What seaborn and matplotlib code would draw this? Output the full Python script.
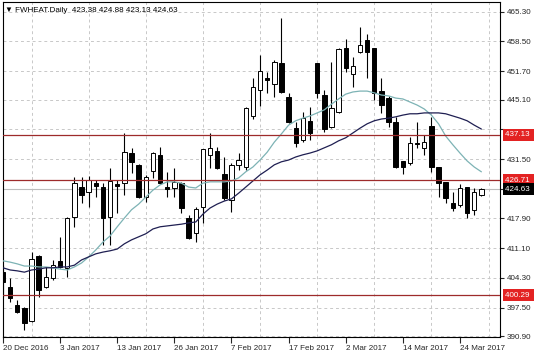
import numpy as np
import pandas as pd
import matplotlib
matplotlib.use("Agg")
import matplotlib.pyplot as plt
import seaborn as sns
from matplotlib.transforms import blended_transform_factory

sns.set_style("white")
plt.rcParams['font.family'] = ['Liberation Sans', 'DejaVu Sans']

# ---- data ----
opens = [405.6, 402.2, 398.1, 397.4, 394.4, 409.3, 402.2, 404.3, 408.2, 406.6,
         418.2, 425.1, 424.0, 426.0, 425.1, 418.2, 425.8, 426.0, 432.9, 430.2,
         422.8, 428.8, 432.5, 425.1, 424.9, 426.0, 418.0, 414.6, 420.5, 432.5,
         433.4, 428.1, 422.1, 430.2, 429.7, 441.4, 447.4, 450.1, 448.7, 453.5,
         445.8, 438.6, 435.9, 440.2, 453.5, 446.2, 438.9, 442.3, 457.0, 451.0,
         456.1, 458.8, 457.0, 447.1, 445.5, 440.0, 431.1, 430.6, 435.2, 434.1,
         439.1, 429.7, 426.3, 421.5, 421.0, 425.1, 419.9, 423.38]
highs = [407.2, 404.3, 399.2, 397.6, 410.2, 409.5, 406.8, 408.4, 413.6, 418.3,
         427.4, 427.4, 427.6, 426.7, 426.0, 429.5, 426.7, 437.5, 434.1, 430.4,
         427.9, 433.1, 434.3, 428.6, 429.5, 426.2, 418.7, 420.5, 433.9, 437.5,
         434.3, 432.0, 430.6, 432.9, 443.5, 450.1, 455.4, 451.5, 454.2, 463.9,
         446.7, 440.0, 442.3, 443.5, 453.5, 447.4, 453.8, 457.0, 459.0, 454.9,
         461.8, 460.2, 457.0, 450.1, 446.0, 441.2, 431.1, 436.6, 440.0, 437.0,
         441.2, 429.7, 426.3, 424.0, 425.8, 425.1, 424.9, 424.88]
lows = [399.9, 398.8, 396.3, 392.3, 394.2, 399.9, 402.0, 403.8, 406.6, 404.5,
        416.0, 421.5, 420.5, 422.8, 411.8, 411.8, 419.2, 423.3, 428.3, 422.6,
        421.7, 427.2, 425.8, 422.8, 422.8, 419.2, 413.2, 412.5, 416.9, 429.5,
        429.3, 422.1, 419.4, 429.0, 429.0, 440.7, 443.7, 446.7, 445.8, 446.7,
        439.8, 434.3, 435.4, 435.9, 445.5, 437.7, 438.6, 442.1, 451.5, 448.0,
        455.8, 450.1, 445.1, 442.1, 438.9, 429.5, 428.1, 430.2, 434.1, 432.5,
        428.6, 422.8, 421.5, 419.6, 420.5, 418.0, 418.7, 423.13]
closes = [403.4, 399.7, 396.5, 394.0, 408.6, 401.5, 404.5, 407.2, 406.8, 418.0,
          426.0, 423.3, 426.7, 425.3, 418.0, 426.5, 425.3, 433.1, 430.9, 422.8,
          427.4, 432.9, 426.0, 424.7, 426.3, 420.3, 413.4, 420.1, 433.8, 434.1,
          429.5, 422.6, 430.2, 431.3, 443.2, 448.0, 451.7, 449.6, 453.8, 446.9,
          440.0, 435.2, 440.9, 437.5, 446.7, 438.4, 443.2, 456.8, 452.4, 452.9,
          457.7, 456.1, 446.7, 443.9, 440.0, 429.7, 429.7, 435.2, 435.0, 435.4,
          429.7, 426.0, 422.6, 420.3, 424.9, 419.2, 424.0, 424.63]

ma_fast = [408.2, 407.9, 407.5, 407.0, 407.0, 406.8, 406.8, 406.6, 406.3, 406.1,
           406.8, 407.7, 409.1, 410.7, 412.5, 413.9, 416.0, 418.0, 419.9, 421.2,
           422.8, 424.4, 425.6, 426.3, 426.3, 426.0, 425.1, 424.9, 426.0, 426.3,
           426.3, 426.3, 426.5, 427.2, 428.6, 429.7, 431.3, 433.1, 435.4, 437.3,
           439.3, 440.3, 440.9, 441.4, 442.1, 442.8, 444.1, 445.3, 446.4, 446.9,
           447.1, 447.1, 446.7, 446.2, 446.0, 445.5, 445.3, 444.6, 443.9, 443.0,
           441.6, 439.6, 436.8, 434.8, 432.9, 431.1, 429.7, 428.6]
ma_slow = [406.6, 406.1, 405.9, 405.6, 406.1, 406.3, 406.6, 406.6, 406.8, 406.8,
           407.2, 408.4, 409.1, 409.8, 410.2, 410.5, 410.9, 412.1, 413.0, 413.7,
           414.4, 415.5, 416.0, 416.2, 416.4, 416.6, 416.9, 417.1, 418.9, 420.3,
           421.2, 421.9, 422.4, 423.7, 425.1, 426.5, 427.9, 429.0, 430.2, 430.9,
           431.3, 432.0, 432.5, 432.9, 433.4, 434.1, 434.8, 435.7, 436.4, 437.5,
           438.6, 439.6, 440.3, 440.7, 440.9, 441.2, 441.6, 441.9, 441.9, 442.1,
           442.1, 442.1, 441.9, 441.4, 440.9, 440.3, 439.3, 438.4]

tick_pos = [0, 8, 16, 24, 32, 40, 48, 56, 64]
tick_labels = ["20 Dec 2016", "3 Jan 2017", "13 Jan 2017", "26 Jan 2017", "7 Feb 2017",
               "17 Feb 2017", "2 Mar 2017", "14 Mar 2017", "24 Mar 2017"]
price_ticks = [465.30, 458.50, 451.70, 445.10, 438.30, 431.50, 424.70, 417.90,
               411.10, 404.30, 397.50, 390.90]
hidden_price_ticks = [438.30, 424.70]
levels = [437.13, 426.71, 400.29]
last_price = 424.63
title = "\u25BC FWHEAT.Daily  423.38 424.88 423.13 424.63"

# ---- figure ----
W, H = 536, 357
Lp, Rp, Tp, Bp = 2.7, 500, 2, 337
fig = plt.figure(figsize=(W / 100, H / 100), dpi=100)
ax = fig.add_axes([Lp / W, (H - Bp) / H, (Rp - Lp) / W, (Bp - Tp) / H])

n = len(opens)
x = np.arange(n)
o = np.array(opens); c = np.array(closes); hi = np.array(highs); lo = np.array(lows)
up = c >= o

# wicks
ax.vlines(x, lo, hi, color="black", lw=0.8, zorder=2)
# bodies
body_h = np.maximum(np.abs(c - o), 0.08)
ax.bar(x[up], body_h[up], bottom=np.minimum(o, c)[up], width=0.62,
       color="white", edgecolor="black", linewidth=0.7, zorder=2.2)
ax.bar(x[~up], body_h[~up], bottom=np.minimum(o, c)[~up], width=0.62,
       color="black", edgecolor="black", linewidth=0.7, zorder=2.2)

# moving averages
df = pd.DataFrame({"bar": x, "fast": ma_fast, "slow": ma_slow})
sns.lineplot(data=df, x="bar", y="fast", color="#7DB3B5", lw=0.9, ax=ax, zorder=3)
sns.lineplot(data=df, x="bar", y="slow", color="#1F1F52", lw=0.9, ax=ax, zorder=3)

# levels
for lv in levels:
    ax.axhline(lv, color="#9E2B2B", lw=0.9, zorder=3.5)
ax.axhline(last_price, color="#BDBDBD", lw=0.8, zorder=1.5)

ax.set_xlim(-0.04, (500 - 3) / 7.14)
ax.set_ylim(390.74, 467.52)

# grid
ax.set_xticks(tick_pos)
ax.set_xticks(list(range(4, 69, 4)), minor=True)
ax.set_xticklabels(tick_labels, ha="left", fontsize=5.8)
ax.tick_params(axis="x", which="major", length=4, width=0.8, pad=1.5, direction="out", bottom=True)
ax.tick_params(axis="x", which="minor", length=0)
ax.grid(axis="x", which="minor", color="#C8C8C8", lw=0.7, linestyle=(0, (3, 3)), zorder=0)

ax.yaxis.tick_right()
ax.set_yticks(price_ticks)
ax.set_yticklabels(["" if p in hidden_price_ticks else f"{p:.2f}" for p in price_ticks], fontsize=5.8)
ax.tick_params(axis="y", length=3, width=0.8, pad=2, direction="out", right=True, left=False)
ax.grid(axis="y", which="major", color="#C8C8C8", lw=0.7, linestyle=(0, (3, 3)), zorder=0)
ax.set_axisbelow(True)
ax.set_xlabel(""); ax.set_ylabel("")

for s in ax.spines.values():
    s.set_visible(True)
    s.set_color("black")
    s.set_linewidth(0.8)

# price boxes
tr = blended_transform_factory(ax.transAxes, ax.transData)
xb = (505 - Lp) / (Rp - Lp)
for lv in levels:
    ax.text(xb, lv, f"{lv:.2f} ", transform=tr, color="white", fontsize=5.8, va="center", ha="left",
            bbox=dict(boxstyle="square,pad=0.3", fc="#E32222", ec="none"), clip_on=False, zorder=6)
ax.text(xb, last_price, f"{last_price:.2f} ", transform=tr, color="white", fontsize=5.8, va="center",
        ha="left", bbox=dict(boxstyle="square,pad=0.3", fc="black", ec="none"), clip_on=False, zorder=6)

# title
ax.text((5 - Lp) / (Rp - Lp), (Bp - 11) / (Bp - Tp), title, transform=ax.transAxes,
        fontsize=5.8, va="center", ha="left", color="black", zorder=7)

fig.savefig("out.png", dpi=100)
